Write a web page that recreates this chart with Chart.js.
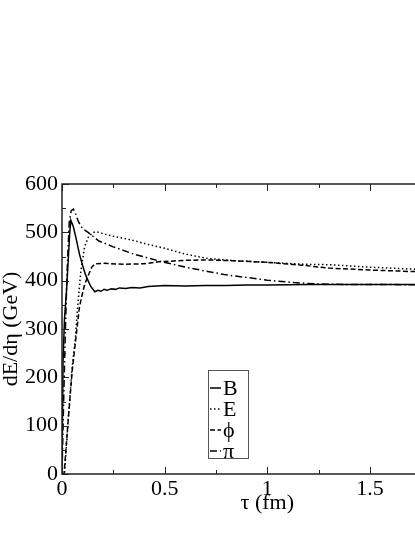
<!DOCTYPE html>
<html>
<head>
<meta charset="utf-8">
<script src="https://cdn.jsdelivr.net/npm/chart.js@4.4.1/dist/chart.umd.min.js"></script>
<style>
  html, body { margin: 0; padding: 0; background: #fff; overflow: hidden; }
  #wrap { width: 480px; height: 537px; }
</style>
</head>
<body>
<div id="wrap"><canvas id="dEChart" width="480" height="537"></canvas></div>
<script>
// tau (fm) and dE/deta (GeV), one pair of arrays per curve
const bTau = [0, 0.005, 0.012, 0.022, 0.03, 0.037, 0.043, 0.055, 0.07, 0.085, 0.1, 0.115, 0.127, 0.14, 0.16, 0.175, 0.19, 0.205, 0.22, 0.24, 0.26, 0.28, 0.31, 0.34, 0.38, 0.42, 0.5, 0.6, 0.7, 0.8, 0.9, 1.0, 1.2, 1.4, 1.6, 1.8, 2.0];
const bVal = [0, 230, 320, 380, 440, 495, 525, 512, 485, 455, 432, 412, 400, 388, 377, 380, 378, 382, 380, 383, 382, 385, 384, 386, 385, 388, 390, 389, 390, 390, 391, 391, 392, 392, 392, 392, 392];

const eTau = [0, 0.012, 0.03, 0.048, 0.065, 0.075, 0.092, 0.11, 0.13, 0.155, 0.17, 0.21, 0.25, 0.34, 0.42, 0.5, 0.6, 0.71, 0.85, 1.0, 1.17, 1.3, 1.5, 1.7, 1.85, 2.0];
const eVal = [0, 0, 110, 215, 280, 340, 420, 470, 492, 500, 501, 496, 492, 484, 475, 467, 455, 446, 441, 438, 434, 433, 428, 424, 422, 420];

const phiTau = [0, 0.01, 0.03, 0.05, 0.07, 0.085, 0.095, 0.11, 0.127, 0.145, 0.16, 0.2, 0.3, 0.4, 0.47, 0.6, 0.71, 0.85, 1.0, 1.17, 1.3, 1.5, 1.7, 2.0];
const phiVal = [0, 0, 110, 215, 290, 345, 365, 392, 410, 428, 435, 436, 434, 435, 439, 442, 443, 441, 438, 432, 426, 422, 419, 416];

const piTau = [0, 0.008, 0.016, 0.025, 0.035, 0.045, 0.055, 0.065, 0.08, 0.1, 0.127, 0.18, 0.25, 0.35, 0.47, 0.6, 0.71, 0.8, 0.93, 1.0, 1.13, 1.25, 1.4, 1.6, 1.8, 2.0];
const piVal = [0, 150, 290, 420, 520, 545, 548, 540, 522, 508, 500, 482, 470, 455, 441, 428, 419, 412, 405, 401, 396, 393, 392, 392, 391, 391];

const seriesLabels = ['B', 'E', '\u03d5', '\u03c0'];
const xTicks = [0, 0.5, 1, 1.5, 2];
const yTicks = [0, 100, 200, 300, 400, 500, 600];

const serif = 'Liberation Serif';

function pairs(xs, ys) {
    return xs.map((x, i) => ({ x: x, y: ys[i] }));
}

function line(label, xs, ys, dash) {
    return {
        label: label,
        data: pairs(xs, ys),
        borderColor: '#000',
        borderWidth: 1.5,
        borderDash: dash,
        pointRadius: 0,
        fill: false,
        tension: 0
    };
}

// axis frame with inward major/minor ticks, drawn from the scales
const framePlugin = {
    id: 'frame',
    afterDraw(chart) {
        const ctx = chart.ctx;
        const a = chart.chartArea;
        const xs = chart.scales.x;
        const ys = chart.scales.y;
        ctx.save();
        ctx.strokeStyle = '#222';
        ctx.lineWidth = 1.5;
        ctx.strokeRect(a.left, a.top, a.right - a.left, a.bottom - a.top);
        ctx.lineWidth = 1;
        const major = 7, minor = 4;
        const xv = xs.ticks.map(t => t.value);
        xv.forEach((v, i) => {
            const px = Math.round(xs.getPixelForValue(v)) + 0.5;
            ctx.beginPath();
            ctx.moveTo(px, a.bottom); ctx.lineTo(px, a.bottom - major);
            ctx.moveTo(px, a.top); ctx.lineTo(px, a.top + major);
            ctx.stroke();
            if (i < xv.length - 1) {
                const m = Math.round(xs.getPixelForValue((v + xv[i + 1]) / 2)) + 0.5;
                ctx.beginPath();
                ctx.moveTo(m, a.bottom); ctx.lineTo(m, a.bottom - minor);
                ctx.moveTo(m, a.top); ctx.lineTo(m, a.top + minor);
                ctx.stroke();
            }
        });
        const yv = ys.ticks.map(t => t.value);
        yv.forEach((v, i) => {
            const py = Math.round(ys.getPixelForValue(v)) + 0.5;
            ctx.beginPath();
            ctx.moveTo(a.left, py); ctx.lineTo(a.left + major, py);
            ctx.moveTo(a.right, py); ctx.lineTo(a.right - major, py);
            ctx.stroke();
            if (i < yv.length - 1) {
                const m = Math.round(ys.getPixelForValue((v + yv[i + 1]) / 2)) + 0.5;
                ctx.beginPath();
                ctx.moveTo(a.left, m); ctx.lineTo(a.left + minor, m);
                ctx.moveTo(a.right, m); ctx.lineTo(a.right - minor, m);
                ctx.stroke();
            }
        });
        ctx.restore();
    }
};

// boxed legend sitting inside the plot, like the original
const boxLegend = {
    id: 'boxLegend',
    afterDraw(chart) {
        const ctx = chart.ctx;
        const a = chart.chartArea;
        const left = a.left + 146, top = a.top + 186;
        const w = 40, h = 88, row = 21;
        ctx.save();
        ctx.fillStyle = '#fff';
        ctx.fillRect(left, top, w, h);
        ctx.strokeStyle = '#555';
        ctx.lineWidth = 1;
        ctx.strokeRect(left + 0.5, top + 0.5, w, h);
        ctx.font = '22px "' + serif + '"';
        ctx.textBaseline = 'middle';
        ctx.fillStyle = '#000';
        chart.data.datasets.forEach((ds, i) => {
            const y = top + 18 + i * row;
            ctx.beginPath();
            ctx.strokeStyle = '#000';
            ctx.lineWidth = 1.5;
            ctx.setLineDash(ds.borderDash || []);
            ctx.moveTo(left + 2, y);
            ctx.lineTo(left + 13, y);
            ctx.stroke();
            ctx.setLineDash([]);
            ctx.fillText(ds.label, left + 15, y + 1);
        });
        ctx.restore();
    }
};

const ctx = document.getElementById('dEChart').getContext('2d');
const chart = new Chart(ctx, {
    type: 'line',
    data: {
        datasets: [
            line(seriesLabels[0], bTau, bVal, []),
            line(seriesLabels[1], eTau, eVal, [1.5, 2.5]),
            line(seriesLabels[2], phiTau, phiVal, [5, 2.5]),
            line(seriesLabels[3], piTau, piVal, [7, 3, 1.5, 3])
        ]
    },
    options: {
        responsive: false,
        animation: false,
        devicePixelRatio: 1,
        layout: { padding: { top: 184, right: 3, left: 0, bottom: 0 } },
        plugins: {
            legend: { display: false },
            tooltip: { enabled: false }
        },
        scales: {
            x: {
                type: 'linear',
                min: xTicks[0],
                max: xTicks[xTicks.length - 1],
                afterBuildTicks(s) { s.ticks = xTicks.map(v => ({ value: v })); },
                afterFit(s) { s.height = 63; },
                grid: { display: false, drawTicks: false },
                border: { display: false },
                ticks: {
                    color: '#000',
                    padding: 2,
                    maxRotation: 0,
                    font: { family: serif, size: 22 },
                    callback: v => String(v)
                },
                title: {
                    display: true,
                    text: '\u03c4 (fm)',
                    color: '#000',
                    font: { family: serif, size: 22, lineHeight: 1 },
                    padding: { top: 0, bottom: 23 }
                }
            },
            y: {
                min: yTicks[0],
                max: yTicks[yTicks.length - 1],
                afterBuildTicks(s) { s.ticks = yTicks.map(v => ({ value: v })); },
                afterFit(s) { s.width = 62; },
                grid: { display: false, drawTicks: false },
                border: { display: false },
                ticks: {
                    color: '#000',
                    padding: 4,
                    font: { family: serif, size: 22 },
                    callback: v => String(v)
                },
                title: {
                    display: true,
                    text: 'dE/d\u03b7 (GeV)',
                    color: '#000',
                    font: { family: serif, size: 22, lineHeight: 1 },
                    padding: { top: 0, bottom: 0 }
                }
            }
        }
    },
    plugins: [framePlugin, boxLegend]
});
</script>
</body>
</html>
